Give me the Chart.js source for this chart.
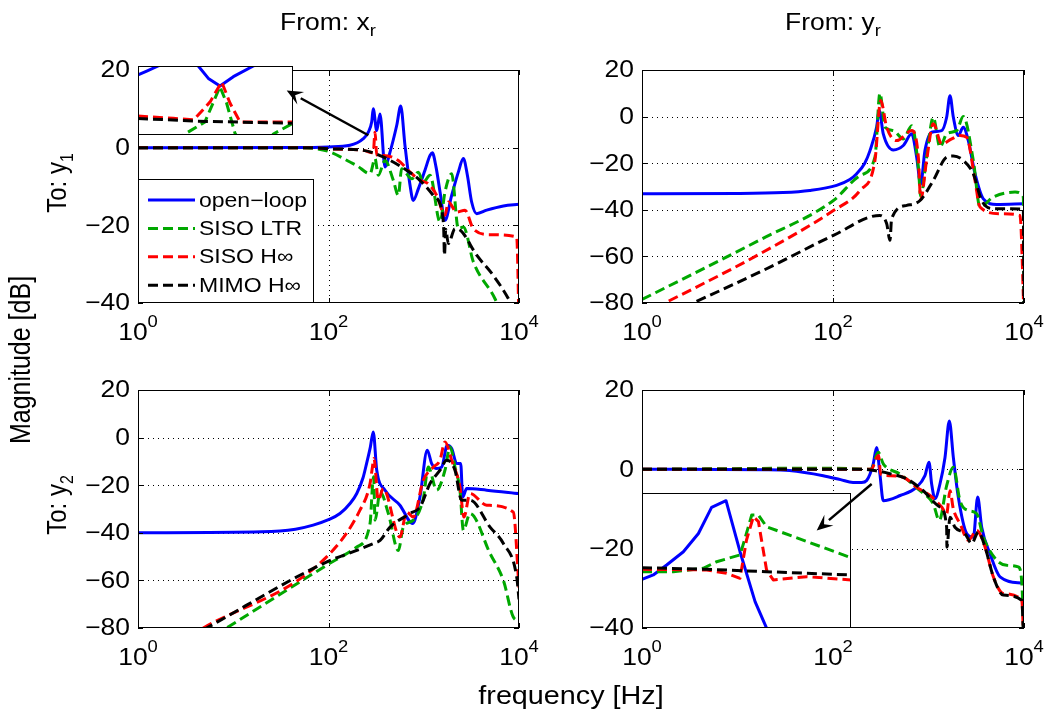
<!DOCTYPE html>
<html>
<head>
<meta charset="utf-8">
<script src="https://cdn.jsdelivr.net/npm/chart.js@4.4.1/dist/chart.umd.min.js"></script>
<style>
html, body { margin: 0; padding: 0; background: #fff; }
#page { position: relative; width: 1046px; height: 717px; overflow: hidden;
        font-family: "Liberation Sans", Arial, Helvetica, sans-serif; color: #000; }
#page canvas { position: absolute; left: 0; top: 0; }
.lbl { position: absolute; font-size: 23px; line-height: 1; white-space: nowrap; }
.lbl sub { font-size: 16px; vertical-align: -6px; line-height: 0; }
.big { font-size: 25px; }
.h { transform: translate(-50%, -50%) scaleX(1.15); }
.v { transform: translate(-50%, -50%) rotate(-90deg) scaleY(1.15); }
</style>
</head>
<body>
<div id="page">
  <canvas id="tl" width="1046" height="717"></canvas>
  <canvas id="tr" width="1046" height="717"></canvas>
  <canvas id="bl" width="1046" height="717"></canvas>
  <canvas id="br" width="1046" height="717"></canvas>
  <canvas id="tl-inset" width="1046" height="717"></canvas>
  <canvas id="br-inset" width="1046" height="717"></canvas>

  <div class="lbl h" style="left:328px; top:22px;">From: x<sub>r</sub></div>
  <div class="lbl h" style="left:833px; top:22px;">From: y<sub>r</sub></div>
  <div class="lbl v" style="left:57px; top:183px; font-size:24px;">To: y<sub>1</sub></div>
  <div class="lbl v" style="left:57px; top:505px; font-size:24px;">To: y<sub>2</sub></div>
  <div class="lbl v big" style="left:20px; top:360px;">Magnitude [dB]</div>
  <div class="lbl h big" style="left:571px; top:695px;">frequency [Hz]</div>
</div>

<script>
// ---- data: [frequency Hz, magnitude dB] ----
const freqTicks = [1, 100, 10000];
const seriesNames = ['open\u2212loop', 'SISO LTR', 'SISO H\u221E', 'MIMO H\u221E'];
const seriesColors = ['#0000ff', '#00a800', '#ff0000', '#000000'];

const yTicksTL = [20, 0, -20, -40];
const yTicksTR = [20, 0, -20, -40, -60, -80];
const yTicksBL = [20, 0, -20, -40, -60, -80];
const yTicksBR = [20, 0, -20, -40];

// From x_r to y_1
const tlOpenLoop = [[1,0],[50,0.05],[100,0.2],[168,0.6],[232,2.3],[262,4],[284,6.6],[295,10],[321,4.4],[347,8.7],
  [392,-5],[443,-1.1],[520,5.7],[573,10.7],[635,0.6],[718,-9.7],[776,-13.6],[877,-10.6],[1030,-5.8],[1164,-2],
  [1230,-1.3],[1346,-5],[1483,-11.4],[1671,-18.7],[1963,-12.3],[2307,-6.3],[2606,-2.8],[2871,-7.1],[3184,-14],
  [3597,-17],[4581,-16.1],[6855,-15],[10000,-14.6]];
const tlSisoLtr = [[1,0],[40,0],[70,-0.2],[104,-1.1],[168,-3.7],[198,-4.6],[273,-6.7],[308,-2.8],[333,-7.1],
  [392,-3.3],[479,-8.4],[541,-12.3],[586,-5.4],[746,-8],[877,-6.3],[989,-8.9],[1164,-7.1],[1483,-19.1],
  [1671,-11.4],[1963,-6.7],[2307,-20.9],[2606,-20.4],[3319,-29.4],[5598,-38.9],[7079,-45],[10000,-55]];
const tlSisoHinf = [[1,0],[60,0],[104,-0.3],[232,-0.7],[295,-1.3],[308,4],[321,-1.9],[376,-2],[541,-3.3],
  [718,-6.3],[912,-8.4],[1117,-9.3],[1368,-12.3],[1671,-17.4],[1811,-14],[2218,-16.6],[2710,-16.1],
  [3319,-20.9],[4966,-22.4],[9462,-23],[10000,-45]];
const tlMimoHinf = [[1,0],[60,0],[104,-0.3],[232,-0.7],[376,-2.4],[661,-5.8],[912,-8.4],[1259,-12.3],
  [1560,-16.6],[1620,-21],[1650,-27.7],[1700,-21],[1811,-24.7],[2128,-20.9],[2399,-21.2],[3597,-27.7],
  [5370,-32.9],[8054,-39.7],[10000,-45]];

// From y_r to y_1
const trOpenLoop = [[1,-33.1],[10,-33],[30,-32.6],[57,-31.7],[109,-29.5],[150,-27],[177,-24.5],[215,-20],
  [244,-14.6],[286,-4.6],[305,2.6],[336,-7.4],[429,-14.3],[545,-12.4],[667,-7.4],[752,-17.4],[828,-29],
  [918,-14.6],[1079,-6.7],[1374,-6],[1549,-0.3],[1679,9],[1820,-0.3],[2051,-8.1],[2312,-4.6],[2612,-10.3],
  [3069,-24.5],[3750,-35.3],[5176,-37.7],[10000,-37.4]];
const trSisoLtr = [[1,-78.5],[17,-53],[101,-36],[192,-25.3],[275,-17.4],[310,10],[351,-4.6],[429,-6],
  [545,-9.6],[667,-3.9],[783,-21.7],[828,-34.3],[955,-17.4],[1122,-0.3],[1318,-13.1],[1549,-7.4],
  [1972,-6],[2312,0],[2944,-18.8],[3459,-38.8],[4764,-34.5],[8054,-32.4],[9840,-34.5],[10000,-85]];
const trSisoHinf = [[1,-85],[17,-59],[101,-40.3],[192,-31.7],[275,-18.8],[316,6.9],[365,-4.6],[464,-10.3],
  [667,-6],[783,-17.4],[828,-35.7],[955,-18.8],[1122,-3.1],[1374,-11.7],[1750,-9.6],[2138,-8.1],
  [2512,-8.9],[3069,-27.4],[3459,-38.8],[5610,-41.7],[9078,-42.4],[10000,-85]];
const trMimoHinf = [[1,-90],[18.6,-66],[101,-51],[310,-42.4],[365,-46],[395,-53.1],[411,-43.8],[592,-38.1],
  [815,-36],[1122,-27.4],[1549,-17.4],[1820,-16.9],[2312,-18.8],[2944,-24.5],[3606,-36],[4764,-39.5],
  [9840,-39.7],[10000,-85]];

// From x_r to y_2
const blOpenLoop = [[1,-40],[20,-39.6],[45,-38.5],[69,-36.8],[100,-34.5],[132,-31.9],[170,-27.5],[198,-23.5],
  [230,-17],[251,-10.9],[275,-4],[295,2.4],[321,-13.7],[392,-22.1],[562,-28.4],[766,-36.1],[912,-25],
  [1089,-5.3],[1211,-10.9],[1365,-13],[1542,-12.4],[1766,-3.2],[1963,-4.6],[2218,-10.9],[2443,-10.9],
  [2564,-25],[2825,-21.4],[4581,-22.1],[10000,-23.5]];
const blSisoLtr = [[1,-103],[8.5,-80],[95,-53.7],[198,-46],[273,-36.1],[290,-20],[298,-16.5],[308,-34.7],
  [348,-22.8],[425,-31.9],[541,-47.4],[610,-37.6],[776,-34.7],[989,-25.6],[1117,-12.4],[1368,-22.1],
  [1671,-13.7],[1888,-3.9],[2128,-12.4],[2399,-22.1],[2606,-38.9],[3062,-31.9],[4966,-48.7],[6855,-60],
  [8710,-75.4],[10000,-77]];
const blSisoHinf = [[1,-96],[4.85,-80],[95,-50.2],[214,-30.5],[273,-19.3],[290,-12],[300,-8.8],[333,-26.3],
  [376,-21.4],[562,-41.8],[661,-31.3],[776,-33.4],[989,-17.9],[1259,-12.4],[1479,-9.5],[1671,-1.8],
  [1963,-9.5],[2399,-20.8],[2642,-33.4],[3062,-23.5],[4581,-28.4],[8710,-31.3],[10000,-63]];
const blMimoHinf = [[1,-96],[5.25,-80],[95,-52.3],[198,-47.4],[295,-44.5],[348,-43.2],[443,-37.6],
  [718,-31.9],[912,-29.2],[1164,-19.3],[1483,-13.7],[1742,-9.5],[2128,-13.7],[2500,-26.3],[3062,-26.3],
  [4966,-37.6],[6855,-44.5],[9462,-58.6],[10000,-68]];

// From y_r to y_2
const brOpenLoop = [[1,0],[20,-0.1],[35,-0.3],[79,-1.6],[120,-2.6],[162,-3.3],[200,-3.3],[225,-2.8],
  [264,1.4],[286,5.5],[310,-1.2],[336,-7.9],[504,-6.6],[752,-4.5],[918,-1.6],[1012,1.8],[1079,-3.7],
  [1169,-7.4],[1318,-3.7],[1489,3],[1652,12.2],[1820,3],[2051,-7],[2512,-16.2],[2951,-17.1],[3273,-7],
  [3606,-14.6],[4406,-21.3],[5610,-27.1],[10000,-28.8]];
const brSisoLtr = [[1,0],[100,0.3],[250,0],[298,4.3],[336,1.4],[504,-1.2],[815,-5.4],[1122,-8.7],
  [1297,-12.9],[1549,-4.1],[1820,0.5],[2138,-7.9],[2612,-10.4],[3199,-11.2],[3750,-17.1],[5176,-22.9],
  [6592,-24.2],[8710,-24.6],[9500,-28.8],[10000,-45]];
const brSisoHinf = [[1,0],[250,0],[300,3.5],[316,-1.2],[395,-1.6],[545,-2],[752,-4.5],[1038,-6.6],
  [1374,-9.5],[1549,-11.2],[1679,-5.4],[1820,-10],[2138,-13.7],[2612,-17.9],[3199,-15.4],[3908,-19.6],
  [4775,-27.1],[6067,-31.3],[9462,-33],[10000,-45]];
const brMimoHinf = [[1,0],[200,0],[286,-0.4],[395,-1.1],[590,-2.4],[881,-5.4],[1318,-9.5],[1549,-14.6],
  [1560,-19.6],[1679,-12.1],[1892,-14.6],[2410,-16.2],[2831,-18.7],[3327,-15.8],[3908,-19.6],
  [4775,-27.1],[6067,-31.7],[9462,-33],[10000,-45]];

// zoomed insets, relative units (x 0..1, y 0..100)
const tlInsetOpenLoop = [[0,87],[0.06,93],[0.13,100],[0.26,125],[0.389,100],[0.454,82],[0.529,71],
  [0.615,84.5],[0.744,100],[0.8,110]];
const tlInsetSisoLtr = [[0.25,-10],[0.303,1.5],[0.432,19],[0.529,70],[0.572,46],[0.626,2.4],[0.66,-10],
  [0.84,-10],[0.873,1.5],[1,17]];
const tlInsetSisoHinf = [[0,27.5],[0.228,24.2],[0.36,22],[0.465,48],[0.54,77],[0.594,46],[0.658,19],[1,19]];
const tlInsetMimoHinf = [[0,24],[0.378,20],[1,17]];

const brInsetOpenLoop = [[0,36],[0.054,39.3],[0.118,46.7],[0.198,56.5],[0.27,70],[0.333,89.4],[0.402,94.3],
  [0.469,56.5],[0.541,19.5],[0.593,1],[0.62,-10]];
const brInsetSisoLtr = [[0,41.7],[0.15,41.7],[0.293,44.2],[0.357,49.1],[0.469,54.1],[0.493,66.4],
  [0.525,83.7],[0.557,83.7],[0.596,75],[1,52.1]];
const brInsetSisoHinf = [[0,43.5],[0.31,43],[0.405,40.5],[0.469,36.8],[0.5,65.2],[0.533,82.5],[0.557,78.8],
  [0.596,43],[0.628,35.6],[0.788,38],[1,35.6]];
const brInsetMimoHinf = [[0,44.7],[0.31,43.5],[0.596,41.7],[1,39.3]];

// arrows, in the parent panel's [Hz, dB]
const tlArrow = [[262, 3.2], [36.4, 14.7]];
const brArrow = [[254, -3.7], [67.5, -15.4]];

// ---- drawing ----
const W = 1046, H = 717;
const STRETCH = 1.15;
const FONT = '"Liberation Sans", Arial, Helvetica, sans-serif';

function text(ctx, str, x, y, align, baseline, size) {
  ctx.save();
  ctx.translate(x, y);
  ctx.scale(STRETCH, 1);
  ctx.font = size + 'px ' + FONT;
  ctx.textAlign = align;
  ctx.textBaseline = baseline;
  ctx.fillStyle = '#000';
  ctx.fillText(str, 0, 0);
  ctx.restore();
}

function drawArrow(ctx, x0, y0, x1, y1) {
  const ang = Math.atan2(y1 - y0, x1 - x0);
  const len = 16, half = 7;
  const bx = x1 - len * Math.cos(ang), by = y1 - len * Math.sin(ang);
  ctx.save();
  ctx.strokeStyle = '#000';
  ctx.fillStyle = '#000';
  ctx.lineWidth = 2.5;
  ctx.setLineDash([]);
  ctx.beginPath();
  ctx.moveTo(x0, y0);
  ctx.lineTo(bx, by);
  ctx.stroke();
  ctx.beginPath();
  ctx.moveTo(x1, y1);
  ctx.lineTo(bx + half * Math.sin(ang), by - half * Math.cos(ang));
  ctx.lineTo(x1 - 0.6 * len * Math.cos(ang), y1 - 0.6 * len * Math.sin(ang));
  ctx.lineTo(bx - half * Math.sin(ang), by + half * Math.cos(ang));
  ctx.closePath();
  ctx.fill();
  ctx.restore();
}

function axesPlugin(yTicks) {
  return {
    id: 'bodeAxes',
    beforeDatasetsDraw(chart) {
      const { ctx, chartArea: a, scales: { x, y } } = chart;
      ctx.save();
      ctx.strokeStyle = '#000';
      ctx.lineWidth = 1;
      ctx.setLineDash([1, 4]);
      ctx.beginPath();
      freqTicks.forEach(f => {
        const px = Math.round(x.getPixelForValue(f)) + 0.5;
        if (px > a.left + 2 && px < a.right - 2) { ctx.moveTo(px, a.top); ctx.lineTo(px, a.bottom); }
      });
      yTicks.forEach(v => {
        const py = Math.round(y.getPixelForValue(v)) + 0.5;
        if (py > a.top + 2 && py < a.bottom - 2) { ctx.moveTo(a.left, py); ctx.lineTo(a.right, py); }
      });
      ctx.stroke();
      ctx.restore();
    },
    afterDatasetsDraw(chart) {
      const { ctx, chartArea: a, scales: { x, y } } = chart;
      ctx.save();
      ctx.strokeStyle = '#000';
      ctx.lineWidth = 1;
      ctx.setLineDash([]);
      ctx.strokeRect(a.left + 0.5, a.top + 0.5, a.width - 1, a.height - 1);
      // inward tick marks
      ctx.beginPath();
      freqTicks.forEach(f => {
        const px = Math.round(x.getPixelForValue(f)) + 0.5;
        ctx.moveTo(px, a.bottom); ctx.lineTo(px, a.bottom - 5);
        ctx.moveTo(px, a.top); ctx.lineTo(px, a.top + 5);
      });
      yTicks.forEach(v => {
        const py = Math.round(y.getPixelForValue(v)) + 0.5;
        ctx.moveTo(a.left, py); ctx.lineTo(a.left + 5, py);
        ctx.moveTo(a.right, py); ctx.lineTo(a.right - 5, py);
      });
      ctx.stroke();
      // y tick labels
      yTicks.forEach(v => {
        const lab = v < 0 ? '\u2212' + (-v) : String(v);
        text(ctx, lab, a.left - 8, y.getPixelForValue(v) + 1, 'right', 'middle', 23);
      });
      // x tick labels 10^n
      freqTicks.forEach(f => {
        const e = String(Math.round(Math.log10(f)));
        const px = x.getPixelForValue(f);
        ctx.font = '23px ' + FONT;
        const w1 = ctx.measureText('10').width * STRETCH;
        ctx.font = '16px ' + FONT;
        const w2 = ctx.measureText(e).width * STRETCH;
        const x0 = px - (w1 + w2) / 2;
        text(ctx, '10', x0, a.bottom + 37, 'left', 'alphabetic', 23);
        text(ctx, e, x0 + w1, a.bottom + 24, 'left', 'alphabetic', 16);
      });
      ctx.restore();
    }
  };
}

const legendPlugin = {
  id: 'legendBox',
  afterDatasetsDraw(chart) {
    const { ctx, chartArea: a } = chart;
    const bw = 176, bh = 124;
    const bx = a.left, by = a.bottom - bh;
    ctx.save();
    ctx.fillStyle = '#fff';
    ctx.fillRect(bx, by, bw, bh);
    ctx.strokeStyle = '#000';
    ctx.lineWidth = 1;
    ctx.strokeRect(bx + 0.5, by + 0.5, bw - 1, bh - 1);
    seriesNames.forEach((name, i) => {
      const ly = by + 21 + i * 28.4;
      ctx.strokeStyle = seriesColors[i];
      ctx.lineWidth = 3;
      ctx.setLineDash(i ? [10, 5] : []);
      ctx.beginPath();
      ctx.moveTo(bx + 10, ly);
      ctx.lineTo(bx + 57, ly);
      ctx.stroke();
      ctx.setLineDash([]);
      text(ctx, name, bx + 61, ly + 1, 'left', 'middle', 20);
    });
    ctx.restore();
  }
};

function insetPlugin(parent, arrow) {
  return {
    id: 'insetBox',
    beforeDraw(chart) {
      const { ctx, chartArea: a } = chart;
      ctx.save();
      ctx.fillStyle = '#fff';
      ctx.fillRect(a.left, a.top, a.width, a.height);
      ctx.restore();
    },
    afterDatasetsDraw(chart) {
      const { ctx, chartArea: a } = chart;
      ctx.save();
      ctx.strokeStyle = '#000';
      ctx.lineWidth = 1;
      ctx.strokeRect(a.left + 0.5, a.top + 0.5, a.width - 1, a.height - 1);
      ctx.restore();
      const { x, y } = parent.scales;
      drawArrow(ctx,
        x.getPixelForValue(arrow[0][0]), y.getPixelForValue(arrow[0][1]),
        x.getPixelForValue(arrow[1][0]), y.getPixelForValue(arrow[1][1]));
    }
  };
}

function makeDatasets(list, smooth) {
  return list.map((pts, i) => ({
    label: seriesNames[i],
    data: pts,
    borderColor: seriesColors[i],
    borderWidth: 3,
    borderDash: i === 0 ? [] : [10, 5],
    borderJoinStyle: 'round',
    cubicInterpolationMode: smooth ? 'monotone' : 'default',
    tension: 0,
    pointRadius: 0,
    fill: false,
    order: 4 - i
  }));
}

function baseOptions(area, xScale, yMin, yMax) {
  const [l, t, r, b] = area;
  return {
    responsive: false,
    animation: false,
    events: [],
    layout: { padding: { left: l, top: t, right: W - r, bottom: H - b } },
    scales: {
      x: Object.assign({ display: false }, xScale),
      y: { type: 'linear', min: yMin, max: yMax, display: false }
    },
    plugins: { legend: { display: false }, tooltip: { enabled: false }, title: { display: false } }
  };
}

function panel(id, list, area, yMin, yMax, yTicks, extra) {
  return new Chart(document.getElementById(id), {
    type: 'line',
    data: { datasets: makeDatasets(list, true) },
    options: baseOptions(area, { type: 'logarithmic', min: 1, max: 10000 }, yMin, yMax),
    plugins: [axesPlugin(yTicks)].concat(extra || [])
  });
}

function inset(id, list, area, parent, arrow) {
  return new Chart(document.getElementById(id), {
    type: 'line',
    data: { datasets: makeDatasets(list, false) },
    options: baseOptions(area, { type: 'linear', min: 0, max: 1 }, 0, 100),
    plugins: [insetPlugin(parent, arrow)]
  });
}

const tlChart = panel('tl', [tlOpenLoop, tlSisoLtr, tlSisoHinf, tlMimoHinf],
  [138, 70, 519, 303], -40, 20, yTicksTL, [legendPlugin]);
const trChart = panel('tr', [trOpenLoop, trSisoLtr, trSisoHinf, trMimoHinf],
  [642, 70, 1024, 303], -80, 20, yTicksTR);
const blChart = panel('bl', [blOpenLoop, blSisoLtr, blSisoHinf, blMimoHinf],
  [138, 390, 519, 628], -80, 20, yTicksBL);
const brChart = panel('br', [brOpenLoop, brSisoLtr, brSisoHinf, brMimoHinf],
  [642, 390, 1024, 628], -40, 20, yTicksBR);

inset('tl-inset', [tlInsetOpenLoop, tlInsetSisoLtr, tlInsetSisoHinf, tlInsetMimoHinf],
  [138, 66, 293, 135], tlChart, tlArrow);
inset('br-inset', [brInsetOpenLoop, brInsetSisoLtr, brInsetSisoHinf, brInsetMimoHinf],
  [642, 493, 851, 628], brChart, brArrow);
</script>
</body>
</html>
